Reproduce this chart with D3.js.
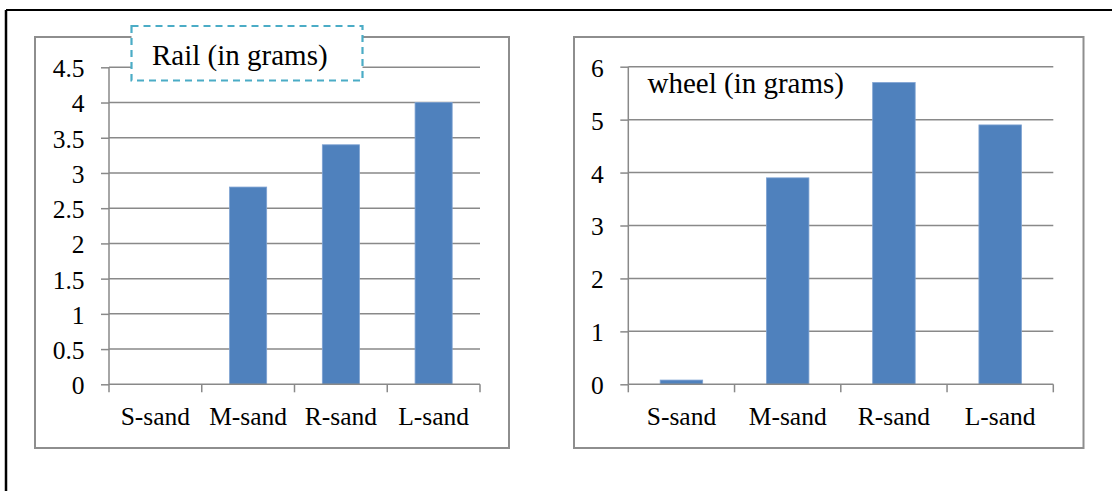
<!DOCTYPE html>
<html>
<head>
<meta charset="utf-8">
<script src="https://cdn.jsdelivr.net/npm/d3@7"></script>
<style>
  html, body { margin: 0; padding: 0; background: #fff; }
  svg { display: block; }
  text { font-family: "Liberation Serif", "Times New Roman", serif; fill: #000; }
</style>
</head>
<body>
<svg id="fig" width="1112" height="491"></svg>
<script>
// Material loss per sand type
const categories = ["S-sand", "M-sand", "R-sand", "L-sand"];
const railValues = [0, 2.8, 3.4, 4.0];
const wheelValues = [0.08, 3.9, 5.7, 4.9];
const railTicks = [0, 0.5, 1, 1.5, 2, 2.5, 3, 3.5, 4, 4.5];
const wheelTicks = [0, 1, 2, 3, 4, 5, 6];
const railTitle = "Rail (in grams)";
const wheelTitle = "wheel (in grams)";

const BAR = "#4F81BD";
const GRID = "#898989";
const FRAME = "#8e8e8e";
const FONT = "'Liberation Serif', 'Times New Roman', serif";

const svg = d3.select("#fig");

// outer page border (open at right and bottom)
svg.append("line").attr("x1", 6).attr("y1", 10).attr("x2", 1112).attr("y2", 10)
  .attr("stroke", "#000").attr("stroke-width", 2);
svg.append("line").attr("x1", 6).attr("y1", 10).attr("x2", 6).attr("y2", 491)
  .attr("stroke", "#000").attr("stroke-width", 2.5);

function drawChart(cfg) {
  const g = svg.append("g");

  // chart frame
  g.append("rect")
    .attr("x", cfg.frame[0]).attr("y", cfg.frame[1])
    .attr("width", cfg.frame[2] - cfg.frame[0]).attr("height", cfg.frame[3] - cfg.frame[1])
    .attr("fill", "#fff").attr("stroke", FRAME).attr("stroke-width", 2);

  const y = d3.scaleLinear().domain([0, d3.max(cfg.ticks)]).range([cfg.plot.bottom, cfg.plot.top]);
  const xCat = d3.scaleBand().domain(categories).range([cfg.plot.left, cfg.plot.right]).padding(0);
  const xBar = d3.scaleBand().domain(categories).range([cfg.plot.left, cfg.plot.right])
    .paddingInner(0.6).paddingOuter(0.3);

  // horizontal gridlines
  g.append("g").selectAll("line").data(cfg.ticks.filter(t => t > 0)).join("line")
    .attr("x1", cfg.plot.left).attr("x2", cfg.plot.right)
    .attr("y1", d => y(d)).attr("y2", d => y(d))
    .attr("stroke", GRID).attr("stroke-width", 1.5);

  // bars
  g.append("g").selectAll("rect").data(cfg.values).join("rect")
    .attr("x", (d, i) => xBar(categories[i]))
    .attr("width", xBar.bandwidth())
    .attr("y", d => y(d))
    .attr("height", d => y(0) - y(d))
    .attr("fill", BAR)
    .attr("stroke", d => d > 0 ? "#7ea2d2" : "none").attr("stroke-width", 0.8);

  // value axis
  const yAxis = g.append("g").attr("transform", `translate(${cfg.plot.left},0)`)
    .call(d3.axisLeft(y).tickValues(cfg.ticks).tickSize(8).tickPadding(16.5)
      .tickFormat(d3.format("~g")))
    .attr("font-family", FONT).attr("font-size", 25.5);
  yAxis.select(".domain").attr("stroke", GRID).attr("stroke-width", 1.5).attr("d",
    `M0,${cfg.plot.top}V${cfg.plot.bottom}`);
  yAxis.selectAll(".tick line").attr("stroke", GRID).attr("stroke-width", 1.5);
  yAxis.selectAll(".tick text").attr("dy", "0.37em").attr("fill", "#000");

  // category axis
  const xAxis = g.append("g").attr("transform", `translate(0,${cfg.plot.bottom})`)
    .call(d3.axisBottom(xCat).tickSize(0))
    .attr("font-family", FONT).attr("font-size", 25.5);
  xAxis.select(".domain").attr("stroke", GRID).attr("stroke-width", 1.5)
    .attr("d", `M${cfg.plot.left},0H${cfg.plot.right}`);
  xAxis.selectAll(".tick text").attr("y", 41).attr("dy", null).attr("fill", "#000");
  const edges = categories.map(c => xCat(c)).concat([cfg.plot.right]);
  xAxis.append("g").selectAll("line").data(edges).join("line")
    .attr("x1", d => d).attr("x2", d => d).attr("y1", 0).attr("y2", 8)
    .attr("stroke", GRID).attr("stroke-width", 1.5);

  // title
  if (cfg.titleBox) {
    const b = cfg.titleBox;
    g.append("rect").attr("x", b[0]).attr("y", b[1])
      .attr("width", b[2] - b[0]).attr("height", b[3] - b[1])
      .attr("fill", "#fff").attr("stroke", "#4BACC6").attr("stroke-width", 2.2)
      .attr("stroke-dasharray", "7,5");
  }
  g.append("text").attr("x", cfg.titlePos[0]).attr("y", cfg.titlePos[1])
    .attr("font-family", FONT).attr("font-size", 29).text(cfg.title);
}

drawChart({
  frame: [35, 37, 509, 448],
  plot: { left: 109, right: 480, top: 67.3, bottom: 384.3 },
  ticks: railTicks,
  values: railValues,
  title: railTitle,
  titleBox: [131.5, 26, 362.5, 80.5],
  titlePos: [152, 65]
});

drawChart({
  frame: [574, 37, 1083.5, 448],
  plot: { left: 628.3, right: 1053.3, top: 66.7, bottom: 384.3 },
  ticks: wheelTicks,
  values: wheelValues,
  title: wheelTitle,
  titleBox: null,
  titlePos: [647.5, 92.5]
});
</script>
</body>
</html>
